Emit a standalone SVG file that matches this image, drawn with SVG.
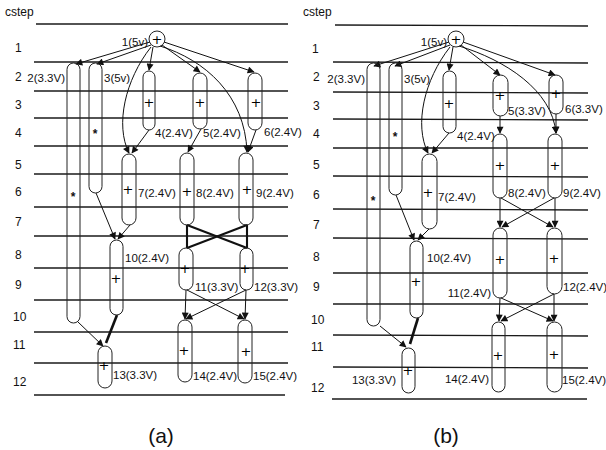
<svg xmlns="http://www.w3.org/2000/svg" width="606" height="450" viewBox="0 0 606 450">
<style>
.ln{stroke:#1a1a1a;stroke-width:1.3;fill:none}
.nd{fill:none;stroke:#222;stroke-width:1}
.t{font-family:"Liberation Sans",Arial,sans-serif;font-size:11.5px;fill:#111}
.r{font-family:"Liberation Sans",Arial,sans-serif;font-size:12px;fill:#111}
.p{font-family:"DejaVu Sans",sans-serif;font-size:13px;fill:#000;text-anchor:middle}
.s{font-family:"Liberation Sans",Arial,sans-serif;font-size:12px;font-weight:bold;fill:#111;text-anchor:middle}
.e{stroke:#111;stroke-width:1;fill:none;marker-end:url(#ah)}
.th{stroke:#111;stroke-width:2.1;fill:none}
.tk{stroke:#111;stroke-width:2.6;fill:none}
.cap{font-family:"Liberation Sans",Arial,sans-serif;font-size:21px;fill:#111;text-anchor:middle}
</style>
<defs>
<marker id="ah" viewBox="0 0 10 10" refX="9" refY="5" markerWidth="8" markerHeight="7" markerUnits="userSpaceOnUse" orient="auto">
<path d="M0,0 L10,5 L0,10 z" fill="#111"/>
</marker>
</defs>
<rect width="606" height="450" fill="#fff"/>

<!-- Panel (a) grid -->
<g id="grid-a">
<text class="r" x="5" y="16">cstep</text>
<g class="ln">
<line x1="36" y1="24" x2="288" y2="24"/>
<line x1="34" y1="62" x2="288" y2="62"/>
<line x1="34" y1="91" x2="288" y2="91"/>
<line x1="34" y1="118" x2="288" y2="118"/>
<line x1="34" y1="146" x2="288" y2="146"/>
<line x1="34" y1="174" x2="288" y2="174"/>
<line x1="34" y1="207" x2="288" y2="207"/>
<line x1="34" y1="236" x2="288" y2="236"/>
<line x1="34" y1="268" x2="288" y2="268"/>
<line x1="34" y1="300" x2="288" y2="300"/>
<line x1="34" y1="332" x2="288" y2="332"/>
<line x1="34" y1="363" x2="288" y2="363"/>
<line x1="34" y1="395" x2="285" y2="395"/>
</g>
<text class="r" x="15" y="52">1</text>
<text class="r" x="15" y="81">2</text>
<text class="r" x="15" y="109">3</text>
<text class="r" x="15" y="137">4</text>
<text class="r" x="15" y="169">5</text>
<text class="r" x="15" y="196">6</text>
<text class="r" x="15" y="226">7</text>
<text class="r" x="15" y="259">8</text>
<text class="r" x="15" y="289">9</text>
<text class="r" x="13" y="321">10</text>
<text class="r" x="13" y="349">11</text>
<text class="r" x="13" y="386">12</text>
<text class="cap" x="161" y="443">(a)</text>
</g>

<!-- Panel (a) connectors -->
<g id="edges-a">
<line class="e" x1="150" y1="42" x2="76" y2="64"/>
<line class="e" x1="151" y1="45" x2="97" y2="64"/>
<line class="e" x1="153" y1="47" x2="149" y2="70"/>
<line class="e" x1="162" y1="45" x2="200" y2="72"/>
<line class="e" x1="164" y1="42" x2="254" y2="72"/>
<path class="e" d="M160,46 C205,60 245,95 247,152"/>
<path class="e" d="M151,47 C125,80 115,125 129,153"/>
<line class="e" x1="149" y1="130" x2="132" y2="153"/>
<line class="e" x1="201" y1="129" x2="188" y2="152"/>
<line class="e" x1="256" y1="130" x2="248" y2="152"/>
<line class="e" x1="96" y1="193" x2="115" y2="239"/>
<line class="e" x1="130" y1="225" x2="118" y2="239"/>
<line class="th" x1="187" y1="225" x2="187" y2="248"/>
<line class="th" x1="247" y1="225" x2="247" y2="248"/>
<line class="th" x1="187" y1="225" x2="247" y2="248"/>
<line class="th" x1="247" y1="225" x2="187" y2="248"/>
<line class="e" x1="186" y1="290" x2="185" y2="319"/>
<line class="e" x1="187" y1="290" x2="244" y2="319"/>
<line class="e" x1="246" y1="290" x2="186" y2="319"/>
<line class="e" x1="246" y1="290" x2="245" y2="319"/>
<line class="e" x1="78" y1="322" x2="103" y2="346"/>
<line class="tk" x1="117" y1="315" x2="106" y2="343"/>
</g>

<!-- Panel (a) nodes -->
<g id="a-n1"><circle class="nd" cx="157" cy="39" r="8"/><text class="p" x="157" y="44">+</text><text class="t" x="148" y="46" text-anchor="end">1(5v)</text></g>
<g id="a-n2"><rect class="nd" x="67" y="63" width="13" height="260" rx="6.5"/><text class="s" x="73" y="201">*</text><text class="t" x="65" y="82" text-anchor="end">2(3.3V)</text></g>
<g id="a-n3"><rect class="nd" x="89" y="63" width="13" height="130" rx="6.5"/><text class="s" x="95" y="138">*</text><text class="t" x="104" y="82">3(5v)</text></g>
<g id="a-n4"><rect class="nd" x="143" y="71" width="12" height="59" rx="6"/><text class="p" x="149" y="107">+</text><text class="t" x="155" y="137">4(2.4V)</text></g>
<g id="a-n5"><rect class="nd" x="193" y="73" width="14" height="56" rx="7"/><text class="p" x="200" y="107">+</text><text class="t" x="203" y="137">5(2.4V)</text></g>
<g id="a-n6"><rect class="nd" x="248" y="73" width="14" height="57" rx="7"/><text class="p" x="256" y="107">+</text><text class="t" x="264" y="136">6(2.4V)</text></g>
<g id="a-n7"><rect class="nd" x="122" y="154" width="14" height="71" rx="7"/><text class="p" x="128" y="194">+</text><text class="t" x="138" y="197">7(2.4V)</text></g>
<g id="a-n8"><rect class="nd" x="180" y="153" width="14" height="72" rx="7"/><text class="p" x="187" y="196">+</text><text class="t" x="196" y="197">8(2.4V)</text></g>
<g id="a-n9"><rect class="nd" x="239" y="153" width="14" height="72" rx="7"/><text class="p" x="247" y="194">+</text><text class="t" x="256" y="197">9(2.4V)</text></g>
<g id="a-n10"><rect class="nd" x="110" y="240" width="13" height="75" rx="6.5"/><text class="p" x="116" y="283">+</text><text class="t" x="125" y="262">10(2.4V)</text></g>
<g id="a-n11"><rect class="nd" x="179" y="248" width="14" height="42" rx="7"/><text class="p" x="185" y="273">+</text><text class="t" x="195" y="291">11(3.3V)</text></g>
<g id="a-n12"><rect class="nd" x="240" y="248" width="13" height="42" rx="6.5"/><text class="p" x="245" y="273">+</text><text class="t" x="254" y="291">12(3.3V)</text></g>
<g id="a-n13"><rect class="nd" x="98" y="346" width="14" height="42" rx="7"/><text class="p" x="104" y="370">+</text><text class="t" x="113" y="379">13(3.3V)</text></g>
<g id="a-n14"><rect class="nd" x="178" y="320" width="14" height="62" rx="7"/><text class="p" x="184" y="355">+</text><text class="t" x="193" y="380">14(2.4V)</text></g>
<g id="a-n15"><rect class="nd" x="238" y="320" width="14" height="63" rx="7"/><text class="p" x="246" y="356">+</text><text class="t" x="253" y="380">15(2.4V)</text></g>

<!-- Panel (b) grid -->
<g id="grid-b">
<text class="r" x="303" y="16">cstep</text>
<g class="ln">
<line x1="335" y1="25" x2="588" y2="26"/>
<line x1="333" y1="62" x2="588" y2="63"/>
<line x1="333" y1="92" x2="588" y2="93"/>
<line x1="333" y1="119" x2="588" y2="120"/>
<line x1="333" y1="148" x2="588" y2="148"/>
<line x1="333" y1="176" x2="588" y2="177"/>
<line x1="333" y1="209" x2="588" y2="210"/>
<line x1="333" y1="238" x2="588" y2="239"/>
<line x1="333" y1="273" x2="588" y2="273"/>
<line x1="333" y1="304" x2="588" y2="304"/>
<line x1="333" y1="335" x2="588" y2="336"/>
<line x1="333" y1="367" x2="588" y2="368"/>
<line x1="332" y1="399" x2="587" y2="399"/>
</g>
<text class="r" x="312" y="53">1</text>
<text class="r" x="313" y="81">2</text>
<text class="r" x="313" y="110">3</text>
<text class="r" x="313" y="138">4</text>
<text class="r" x="313" y="169">5</text>
<text class="r" x="313" y="199">6</text>
<text class="r" x="313" y="229">7</text>
<text class="r" x="313" y="261">8</text>
<text class="r" x="313" y="291">9</text>
<text class="r" x="311" y="324">10</text>
<text class="r" x="311" y="351">11</text>
<text class="r" x="311" y="392">12</text>
<text class="cap" x="446" y="443">(b)</text>
</g>

<!-- Panel (b) connectors -->
<g id="edges-b">
<line class="e" x1="449" y1="42" x2="374" y2="66"/>
<line class="e" x1="450" y1="45" x2="395" y2="66"/>
<line class="e" x1="453" y1="47" x2="449" y2="70"/>
<line class="e" x1="461" y1="45" x2="500" y2="75"/>
<line class="e" x1="463" y1="42" x2="555" y2="75"/>
<path class="e" d="M459,46 C505,60 552,90 556,133"/>
<path class="e" d="M450,47 C424,80 414,125 428,153"/>
<line class="e" x1="449" y1="133" x2="432" y2="153"/>
<line class="e" x1="500" y1="116" x2="500" y2="133"/>
<line class="e" x1="556" y1="114" x2="556" y2="133"/>
<line class="e" x1="396" y1="195" x2="414" y2="240"/>
<line class="e" x1="429" y1="229" x2="418" y2="240"/>
<line class="e" x1="500" y1="198" x2="500" y2="227"/>
<line class="e" x1="501" y1="198" x2="553" y2="227"/>
<line class="e" x1="554" y1="198" x2="502" y2="227"/>
<line class="e" x1="555" y1="198" x2="555" y2="227"/>
<line class="e" x1="500" y1="298" x2="499" y2="321"/>
<line class="e" x1="501" y1="298" x2="553" y2="321"/>
<line class="e" x1="554" y1="294" x2="501" y2="321"/>
<line class="e" x1="554" y1="294" x2="554" y2="321"/>
<line class="e" x1="380" y1="326" x2="406" y2="347"/>
<line class="tk" x1="418" y1="318" x2="410" y2="344"/>
</g>

<!-- Panel (b) nodes -->
<g id="b-n1"><circle class="nd" cx="456" cy="39" r="8"/><text class="p" x="456" y="44">+</text><text class="t" x="447" y="46" text-anchor="end">1(5v)</text></g>
<g id="b-n2"><rect class="nd" x="367" y="63" width="13" height="263" rx="6.5"/><text class="s" x="373" y="205">*</text><text class="t" x="365" y="83" text-anchor="end">2(3.3V)</text></g>
<g id="b-n3"><rect class="nd" x="389" y="63" width="13" height="132" rx="6.5"/><text class="s" x="395" y="141">*</text><text class="t" x="404" y="83">3(5v)</text></g>
<g id="b-n4"><rect class="nd" x="443" y="71" width="13" height="62" rx="6.5"/><text class="p" x="449" y="108">+</text><text class="t" x="457" y="140">4(2.4V)</text></g>
<g id="b-n5"><rect class="nd" x="493" y="75" width="15" height="41" rx="7.5"/><text class="p" x="500" y="100">+</text><text class="t" x="508" y="115">5(3.3V)</text></g>
<g id="b-n6"><rect class="nd" x="549" y="75" width="14" height="39" rx="7"/><text class="p" x="556" y="98">+</text><text class="t" x="565" y="113">6(3.3V)</text></g>
<g id="b-n7"><rect class="nd" x="422" y="154" width="15" height="75" rx="7.5"/><text class="p" x="428" y="197">+</text><text class="t" x="438" y="201">7(2.4V)</text></g>
<g id="b-n8"><rect class="nd" x="493" y="134" width="14" height="64" rx="7"/><text class="p" x="500" y="170">+</text><text class="t" x="508" y="197">8(2.4V)</text></g>
<g id="b-n9"><rect class="nd" x="548" y="134" width="14" height="64" rx="7"/><text class="p" x="555" y="170">+</text><text class="t" x="563" y="197">9(2.4V)</text></g>
<g id="b-n10"><rect class="nd" x="410" y="241" width="13" height="77" rx="6.5"/><text class="p" x="416" y="286">+</text><text class="t" x="427" y="262">10(2.4V)</text></g>
<g id="b-n11"><rect class="nd" x="493" y="228" width="14" height="70" rx="7"/><text class="p" x="500" y="264">+</text><text class="t" x="491" y="297" text-anchor="end">11(2.4V)</text></g>
<g id="b-n12"><rect class="nd" x="547" y="228" width="15" height="66" rx="7.5"/><text class="p" x="554" y="263">+</text><text class="t" x="563" y="291">12(2.4V)</text></g>
<g id="b-n13"><rect class="nd" x="402" y="348" width="13" height="45" rx="6.5"/><text class="p" x="408" y="375">+</text><text class="t" x="396" y="384" text-anchor="end">13(3.3V)</text></g>
<g id="b-n14"><rect class="nd" x="492" y="322" width="13" height="70" rx="6.5"/><text class="p" x="498" y="360">+</text><text class="t" x="489" y="383" text-anchor="end">14(2.4V)</text></g>
<g id="b-n15"><rect class="nd" x="547" y="322" width="15" height="70" rx="7.5"/><text class="p" x="554" y="359">+</text><text class="t" x="562" y="384">15(2.4V)</text></g>
</svg>
